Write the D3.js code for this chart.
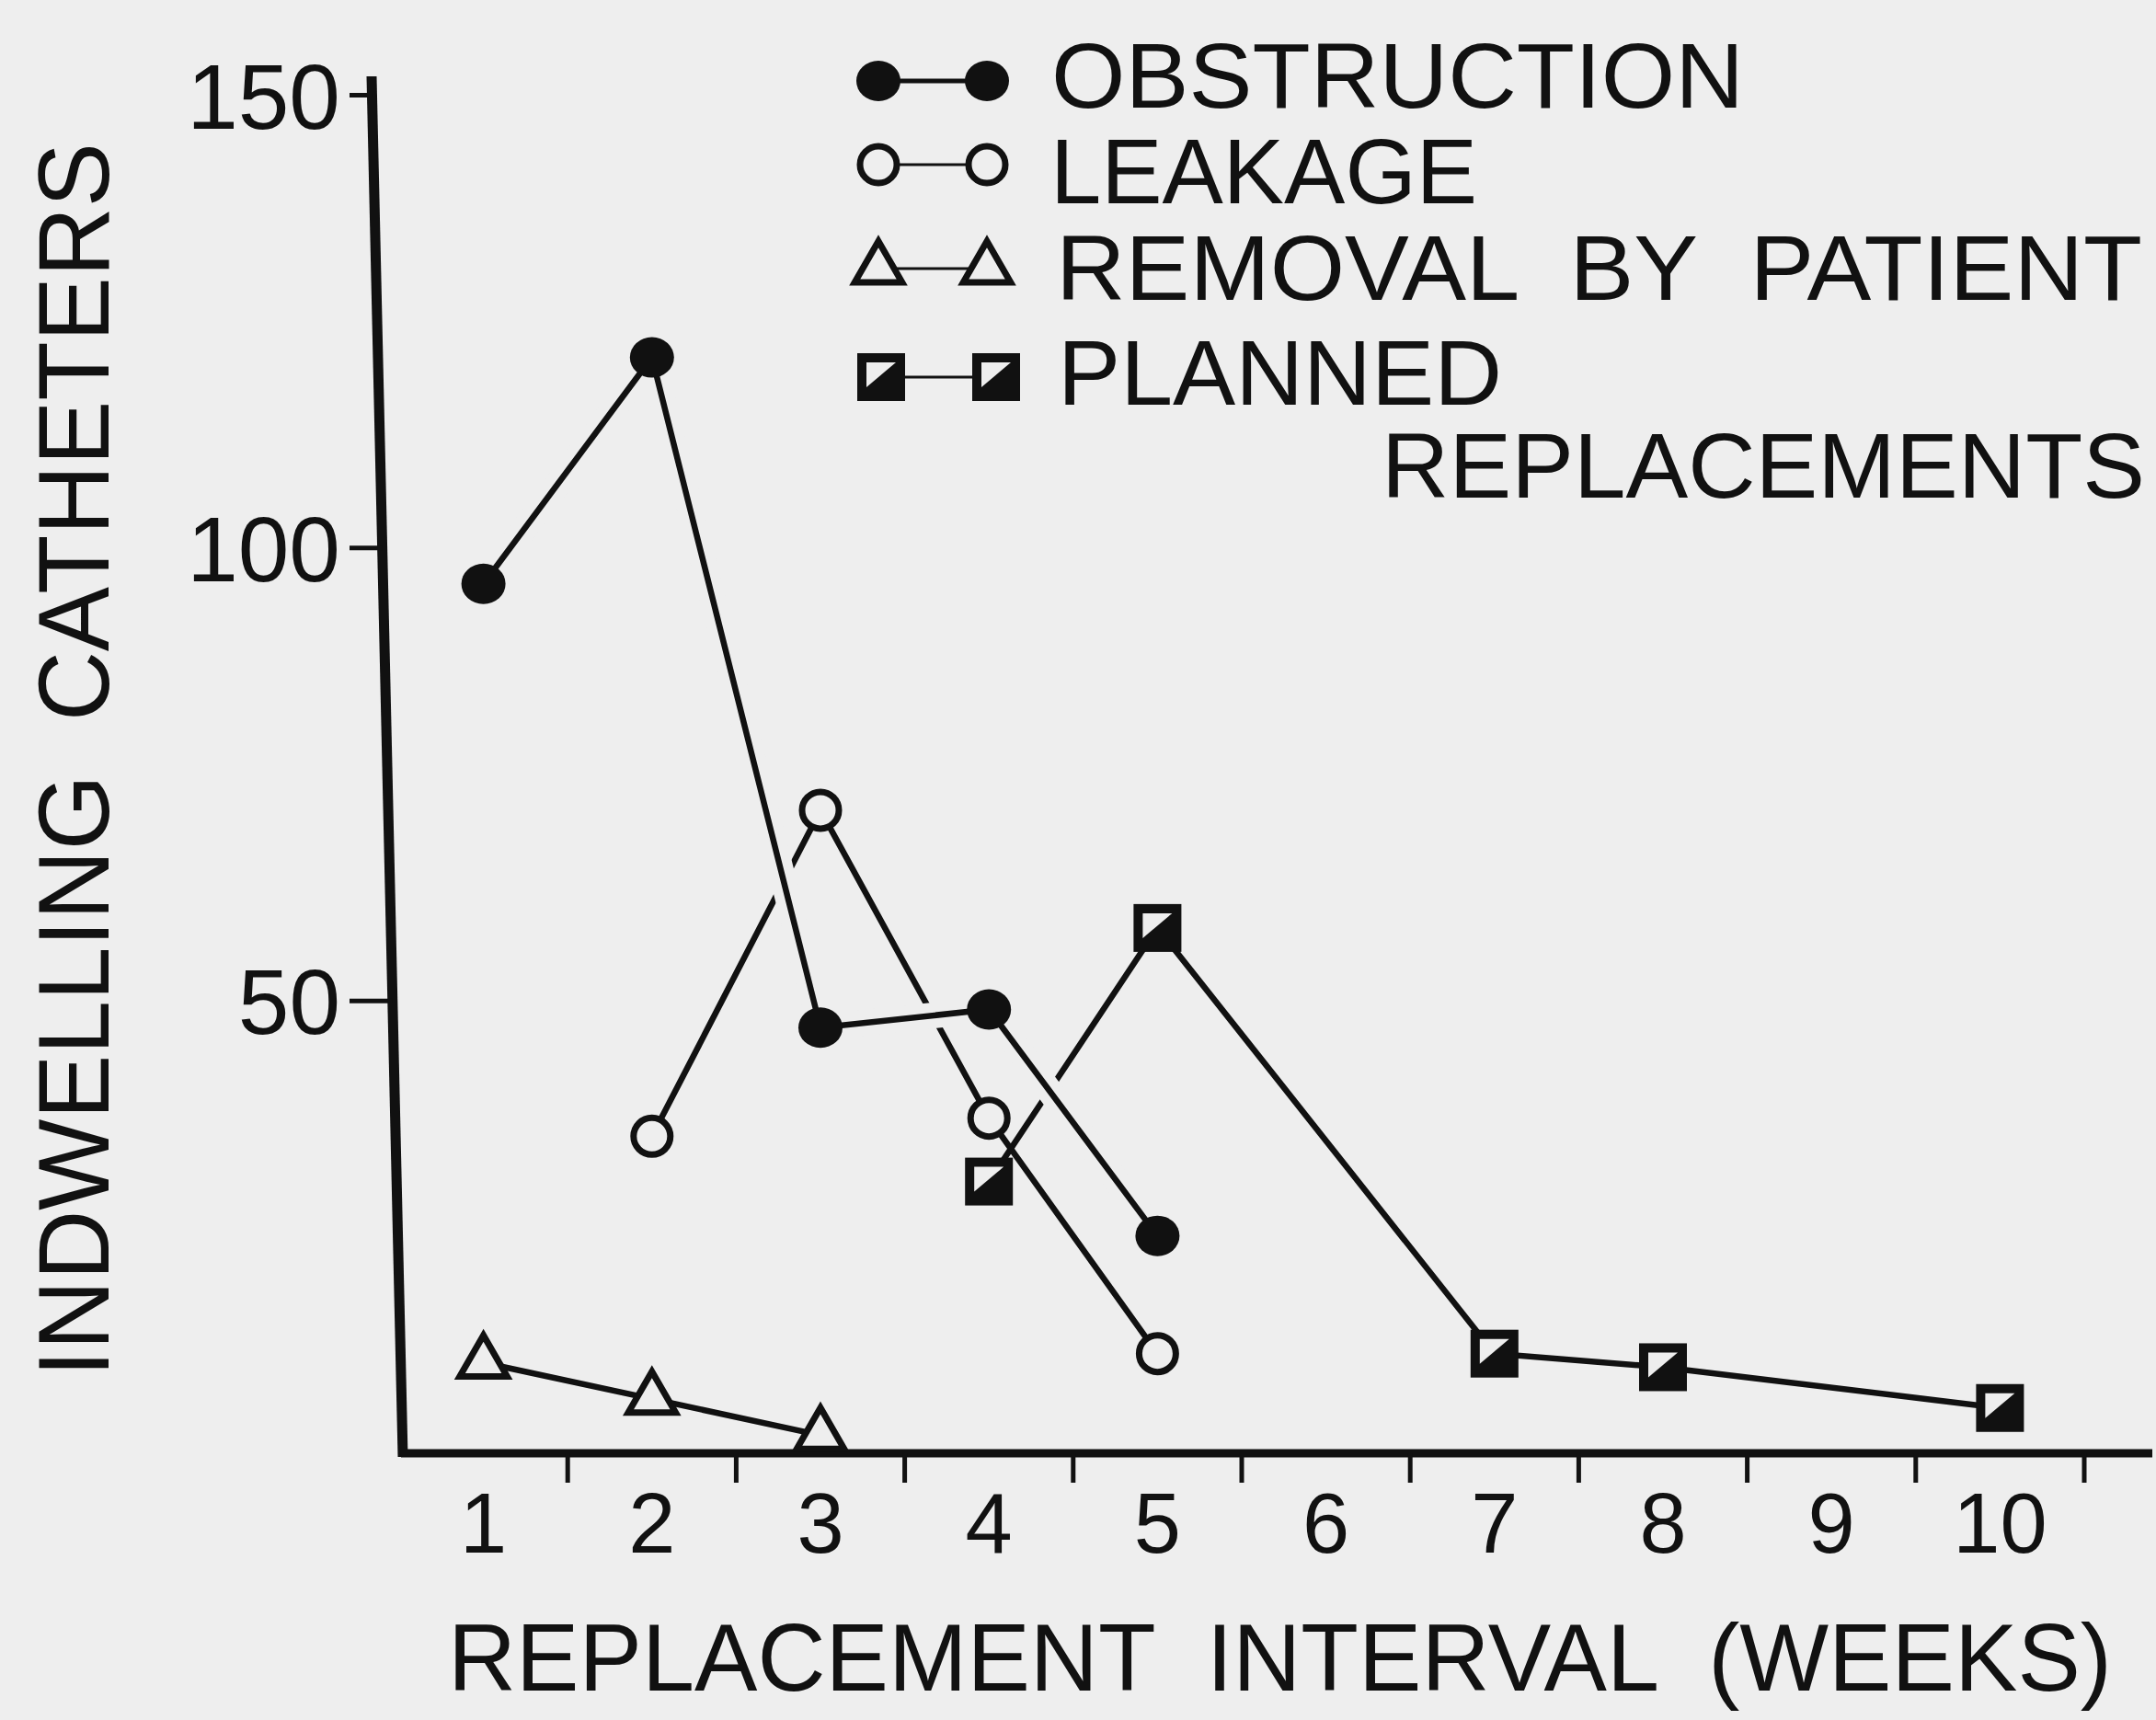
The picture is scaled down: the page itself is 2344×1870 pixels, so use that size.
<!DOCTYPE html>
<html>
<head>
<meta charset="utf-8">
<script src="https://cdn.jsdelivr.net/npm/d3@7"></script>
<style>
  body { margin: 0; background: #eeeeee; }
  svg { display: block; }
  text { font-family: "Liberation Sans", Arial, Helvetica, sans-serif; fill: #111; white-space: pre; }
</style>
</head>
<body>
<div id="chart"></div>
<script>
// data
var weeks = [1, 2, 3, 4, 5, 6, 7, 8, 9, 10];
var yTicks = [50, 100, 150];

var obstructionWeeks = [1, 2, 3, 4, 5];
var obstructionValues = [96, 121, 47, 49, 24];

var leakageWeeks = [2, 3, 4, 5];
var leakageValues = [35, 71, 37, 11];

var removalWeeks = [1, 2, 3];
var removalValues = [10, 6, 2];

var plannedWeeks = [4, 5, 7, 8, 10];
var plannedValues = [30, 58, 11, 9.5, 5];

var legendLabels = ["OBSTRUCTION", "LEAKAGE", "REMOVAL  BY  PATIENT", "PLANNED"];
var legendMarkers = ["filled", "open", "triangle", "square"];

var width = 2344, height = 1870;
var bg = "#eeeeee", ink = "#111";

var svg = d3.select("#chart")
  .append("svg")
  .attr("width", width)
  .attr("height", height);

svg.append("rect").attr("width", width).attr("height", height).attr("fill", bg);

var x = d3.scaleBand().domain(weeks).range([434, 2266]).padding(0);
var y = d3.scaleLinear().domain([0, 150]).range([1580, 103]);

function cx(w) { return x(w) + x.bandwidth() / 2; }

// y axis (the printed axis leans a little to the right going down)
var axisTop = y(150) - 20, axisBottom = y(0) + 4;
var axisX0 = 404, axisLean = 34;
function slant(py) { return axisX0 + (py - axisTop) / (axisBottom - axisTop) * axisLean; }

svg.append("line")
  .attr("x1", slant(axisTop)).attr("y1", axisTop)
  .attr("x2", slant(axisBottom)).attr("y2", axisBottom)
  .attr("stroke", ink).attr("stroke-width", 11);

var yAxisG = svg.append("g")
  .attr("transform", "translate(" + axisX0 + ",0)")
  .call(d3.axisLeft(y).tickValues(yTicks).tickSize(24).tickPadding(10));
yAxisG.select(".domain").remove();
yAxisG.selectAll(".tick line")
  .attr("x1", -24)
  .attr("x2", function(d) { return slant(y(d)) - axisX0; })
  .attr("stroke", ink).attr("stroke-width", 5);
yAxisG.selectAll(".tick text")
  .attr("font-size", 100)
  .attr("fill", ink)
  .attr("dy", "0.36em");

// x axis
svg.append("line")
  .attr("x1", 436).attr("y1", y(0))
  .attr("x2", 2340).attr("y2", y(0))
  .attr("stroke", ink).attr("stroke-width", 9);

svg.append("g").selectAll("line")
  .data(weeks)
  .join("line")
    .attr("x1", function(d) { return x(d) + x.bandwidth(); })
    .attr("x2", function(d) { return x(d) + x.bandwidth(); })
    .attr("y1", y(0))
    .attr("y2", y(0) + 32)
    .attr("stroke", ink).attr("stroke-width", 5);

var xAxisG = svg.append("g")
  .attr("transform", "translate(0," + y(0) + ")")
  .call(d3.axisBottom(x).tickSize(0).tickPadding(43));
xAxisG.select(".domain").remove();
xAxisG.selectAll(".tick text")
  .attr("font-size", 92)
  .attr("fill", ink);

// axis titles
svg.append("text")
  .attr("transform", "translate(118,826) rotate(-90)")
  .attr("text-anchor", "middle")
  .attr("font-size", 110)
  .attr("textLength", 1342)
  .attr("lengthAdjust", "spacingAndGlyphs")
  .text("INDWELLING  CATHETERS");

svg.append("text")
  .attr("x", 487).attr("y", 1838)
  .attr("font-size", 104)
  .attr("textLength", 1809)
  .attr("lengthAdjust", "spacingAndGlyphs")
  .text("REPLACEMENT  INTERVAL  (WEEKS)");

// markers
function drawMarker(g, type, px, py) {
  if (type == "filled") {
    g.append("ellipse").attr("cx", px).attr("cy", py).attr("rx", 24).attr("ry", 22).attr("fill", ink);
  } else if (type == "open") {
    g.append("circle").attr("cx", px).attr("cy", py).attr("r", 20)
      .attr("fill", bg).attr("stroke", ink).attr("stroke-width", 7);
  } else if (type == "triangle") {
    g.append("path")
      .attr("d", d3.symbol(d3.symbolTriangle, 1150)())
      .attr("transform", "translate(" + px + "," + py + ")")
      .attr("fill", bg).attr("stroke", ink).attr("stroke-width", 7)
      .attr("stroke-linejoin", "miter");
  } else {
    g.append("rect").attr("x", px - 26).attr("y", py - 26)
      .attr("width", 52).attr("height", 52).attr("fill", ink);
    g.append("polygon")
      .attr("points", [[px - 16, py - 16], [px + 16, py - 16], [px - 16, py + 11]].join(" "))
      .attr("fill", bg);
  }
}

var series = [
  {weeks: plannedWeeks, values: plannedValues, marker: "square", halo: false},
  {weeks: leakageWeeks, values: leakageValues, marker: "open", halo: false},
  {weeks: removalWeeks, values: removalValues, marker: "triangle", halo: false},
  {weeks: obstructionWeeks, values: obstructionValues, marker: "filled", halo: true}
];

var line = d3.line()
  .x(function(d) { return cx(d[0]); })
  .y(function(d) { return y(d[1]); });

series.forEach(function(s) {
  var pts = d3.zip(s.weeks, s.values);
  var g = svg.append("g");
  if (s.halo) {
    // white gap where this line passes over the others
    g.append("path").attr("d", line(pts))
      .attr("fill", "none").attr("stroke", bg).attr("stroke-width", 28);
  }
  g.append("path").attr("d", line(pts))
    .attr("fill", "none").attr("stroke", ink).attr("stroke-width", 6.5);
  pts.forEach(function(p) { drawMarker(g, s.marker, cx(p[0]), y(p[1])); });
});

// legend
var legendBase = [117, 221, 326, 440];
var legendMid = [88, 179, 292, 410];
var legendWidths = [753, 464, 1181, 483];
var legendX = [1143, 1142, 1148, 1150];

var legend = svg.append("g");
legendLabels.forEach(function(label, i) {
  var m = legendMarkers[i];
  var lx1 = m == "square" ? 958 : 955, lx2 = m == "square" ? 1083 : 1073;
  legend.append("line")
    .attr("x1", lx1).attr("x2", lx2)
    .attr("y1", legendMid[i]).attr("y2", legendMid[i])
    .attr("stroke", ink).attr("stroke-width", i == 0 ? 5 : 3);
  drawMarker(legend, m, lx1, legendMid[i]);
  drawMarker(legend, m, lx2, legendMid[i]);
  legend.append("text")
    .attr("x", legendX[i]).attr("y", legendBase[i])
    .attr("font-size", 100)
    .attr("textLength", legendWidths[i])
    .attr("lengthAdjust", "spacingAndGlyphs")
    .text(label);
});

legend.append("text")
  .attr("x", 1502).attr("y", 541)
  .attr("font-size", 100)
  .attr("textLength", 830)
  .attr("lengthAdjust", "spacingAndGlyphs")
  .text("REPLACEMENTS");
</script>
</body>
</html>
